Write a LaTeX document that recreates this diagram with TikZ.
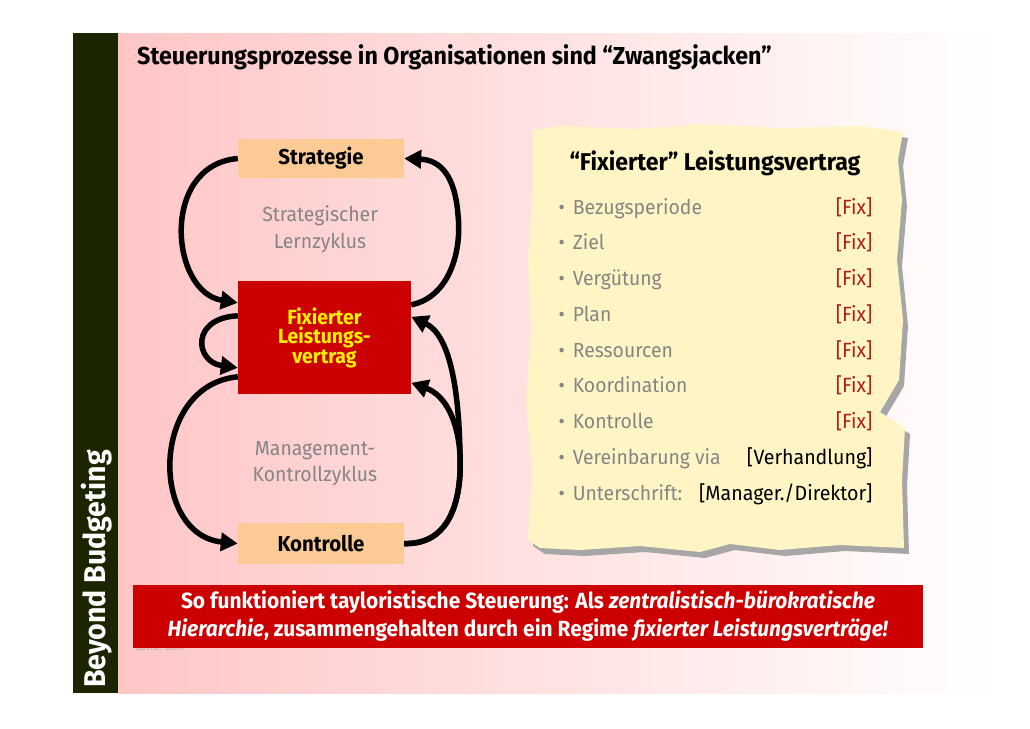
\documentclass[tikz,border=0pt]{standalone}
\usepackage{fontspec}
\setmainfont{Fira Sans}[FakeStretch=0.95]
\usetikzlibrary{arrows.meta,calc}
\definecolor{bar}{HTML}{1B2500}
\definecolor{pinkbg}{HTML}{FFC6C6}
\definecolor{peach}{HTML}{FCCB95}
\definecolor{redbox}{HTML}{CC0000}
\definecolor{paper}{HTML}{FFF5C4}
\definecolor{shadowgray}{HTML}{A6A6A6}
\definecolor{labelgray}{HTML}{858585}
\definecolor{fixred}{HTML}{B01E14}
\definecolor{yel}{HTML}{FFF000}
\begin{document}
\begin{tikzpicture}[x=1pt,y=-1pt,
  box/.style={fill=peach, minimum width=166pt, inner sep=0pt, font=\fontsize{21.5}{22}\selectfont\bfseries},
  flow/.style={line width=5.5pt, -{Triangle[length=17pt,width=18pt]}},
  cyc/.style={text=labelgray, align=center, font=\fontsize{20.4}{26.5}\selectfont},
  item/.style={text=labelgray, anchor=west, text height=15pt, text depth=5pt, font=\fontsize{20.4}{22}\selectfont},
  val/.style={anchor=east, text height=15pt, text depth=5pt, font=\fontsize{20.6}{22}\selectfont}]
\useasboundingbox (0,0) rectangle (1030,728);
\fill[white] (0,0) rectangle (1030,728);
% background
\shade[left color=pinkbg, right color=white] (118,33) rectangle (1000,693);
\fill[bar] (73,33) rectangle (118,693);
\node[rotate=90, text=white, font=\fontsize{30}{32}\selectfont\bfseries] (bb) at (97,569) {Beyond Budgeting};
% title
\node[anchor=west, font=\fontsize{24.5}{26}\selectfont\bfseries, inner sep=0pt] (title) at (137,57) {Steuerungsprozesse in Organisationen sind “Zwangsjacken”};
% cycle boxes
\node[box, minimum height=39pt] (strat) at (321,158.5) {Strategie};
\node[fill=redbox, minimum width=173pt, minimum height=113pt, inner sep=0pt, text=yel, align=center,
      font=\fontsize{20.5}{19.5}\selectfont\bfseries] (red) at (324.5,337.5) {Fixierter\\Leistungs-\\vertrag};
\node[box, minimum height=41pt] (kont) at (321,543.5) {Kontrolle};
\node[cyc] (lern) at (320,229) {Strategischer\\Lernzyklus};
\node[cyc] (mgmt) at (315,463.5) {Management-\\Kontrollzyklus};
% connectors
\draw[flow] (strat.west) .. controls (160,165) and (170,292) .. ($(red.north west)+(0,22)$);
\draw[flow] ($(red.north east)+(0,24)$) .. controls (450,297) and (462,250) .. (458,215) .. controls (455,175) and (440,160) .. (strat.east);
\draw[flow] ($(red.north west)+(0,35)$) .. controls (190,318) and (195,362) .. ($(red.north west)+(0,87)$);
\draw[flow] ($(red.north west)+(0,96)$) .. controls (150,385) and (150,535) .. (kont.west);
\draw[flow] (kont.east) .. controls (450,545) and (462,500) .. (460,455) .. controls (458,420) and (445,395) .. ($(red.north east)+(0,102)$);
\draw[flow] (kont.east) .. controls (450,545) and (462,500) .. (460,455) .. controls (459,390) and (450,335) .. ($(red.north east)+(0,36)$);
% parchment
\begin{scope}[shift={(5,6)}]
\fill[shadowgray] (533,130) -- (560,126) -- (640,129) -- (700,124) -- (780,128) -- (860,126) -- (903,132) -- (898,160) -- (902,200) -- (897,260) -- (903,320) -- (899,380) -- (880,412) -- (905,428) -- (902,480) -- (904,548) -- (840,545) -- (780,550) -- (730,544) -- (700,552) -- (640,546) -- (580,550) -- (540,548) -- (528,540) -- (532,470) -- (526,400) -- (531,330) -- (528,260) -- (533,190) -- cycle;
\end{scope}
\fill[paper] (533,130) -- (560,126) -- (640,129) -- (700,124) -- (780,128) -- (860,126) -- (903,132) -- (898,160) -- (902,200) -- (897,260) -- (903,320) -- (899,380) -- (880,412) -- (905,428) -- (902,480) -- (904,548) -- (840,545) -- (780,550) -- (730,544) -- (700,552) -- (640,546) -- (580,550) -- (540,548) -- (528,540) -- (532,470) -- (526,400) -- (531,330) -- (528,260) -- (533,190) -- cycle;
\node[font=\fontsize{24.3}{26}\selectfont\bfseries] (ptitle) at (715,163) {“Fixierter” Leistungsvertrag};
\foreach \i/\t/\v/\c in {1/Bezugsperiode/[Fix]/fixred, 2/Ziel/[Fix]/fixred, 3/Vergütung/[Fix]/fixred, 4/Plan/[Fix]/fixred, 5/Ressourcen/[Fix]/fixred, 6/Koordination/[Fix]/fixred, 7/Kontrolle/[Fix]/fixred, 8/Vereinbarung via/[Verhandlung]/black, 9/Unterschrift:/{[Manager./Direktor]}/black}{
  \pgfmathsetmacro{\yy}{209+35.75*(\i-1)}
  \node[item] (it\i) at (555,\yy) {•\hspace{8pt}\t};
  \node[val, text=\c] (v\i) at (876,\yy) {\v};
}
% source and banner
\node[anchor=west, text=labelgray!70, font=\fontsize{9}{10}\selectfont, inner sep=0pt] (src) at (135,648) {Quelle: BBRT};
\node[fill=redbox, minimum width=790pt, minimum height=63pt, inner sep=0pt, text=white, align=center,
      font=\fontsize{22}{28}\selectfont\bfseries] (banner) at (528,616.5)
  {So funktioniert tayloristische Steuerung: Als \textit{zentralistisch-bürokratische}\\
   \textit{Hierarchie}, zusammengehalten durch ein Regime \textit{fixierter Leistungsverträge!}};
\end{tikzpicture}
\end{document}
